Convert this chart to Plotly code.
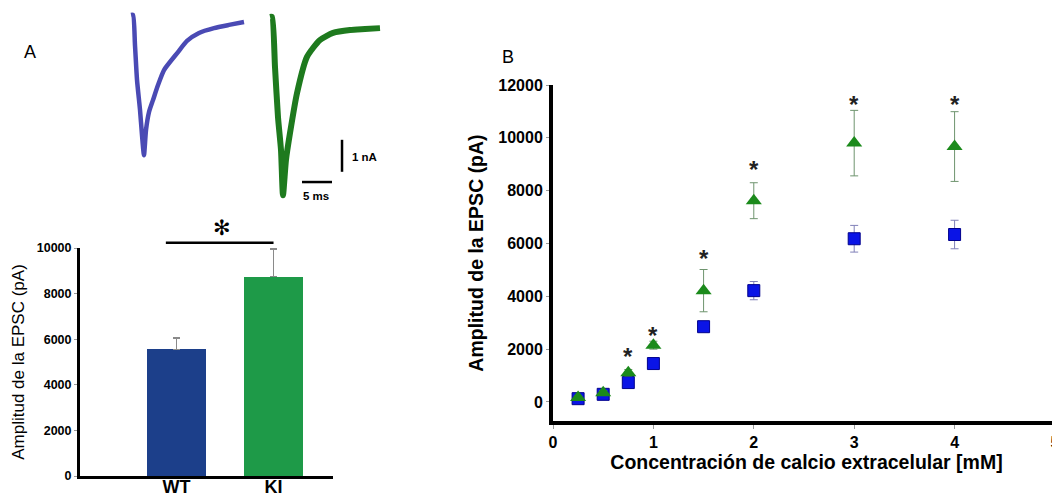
import plotly.graph_objects as go

# target picture size; the page body adds an 8 px margin, so the figure is
# drawn 8 px smaller and all pixel geometry is shifted by that margin
W, H = 1060, 498
OFF = 8
FW, FH = W - OFF, H - OFF

# ---------------- data ----------------
# Panel A: mean EPSC amplitude (pA)
genotypes = ["WT", "KI"]
amp_mean = [5550, 8750]
amp_sem = [500, 1200]

# Panel B: EPSC amplitude vs extracellular calcium
calcium_mM = [0.25, 0.5, 0.75, 1, 1.5, 2, 3, 4]
wt_amp = [125, 290, 735, 1455, 2850, 4215, 6180, 6340]
wt_sem = [60, 60, 80, 100, 120, 345, 505, 540]
ki_amp = [165, 350, 1110, 2150, 4215, 7620, 9800, 9670]
ki_sem = [60, 80, 120, 150, 800, 680, 1240, 1320]
sig_calcium = [0.75, 1, 1.5, 2, 3, 4]
sig_star_level = [1940, 2760, 5650, 9040, 11500, 11500]

# Panel A: example EPSC traces (time ms, current nA)
wt_t_ms = [-0.33, 0, 0.33, 0.67, 1.17, 1.5, 1.83, 2.17, 2.67, 3.33, 4.17, 5.17,
           7.5, 9.0, 11.0, 13.5, 16.0, 18.5]
wt_i_nA = [0, 0, -0.94, -2.03, -2.97, -3.75, -4.38, -3.59, -3.03, -2.66, -2.19,
           -1.72, -1.16, -0.81, -0.56, -0.41, -0.31, -0.22]
ki_t_ms = [-0.33, 0, 0.5, 1.0, 1.5, 1.83, 2.33, 3.0, 4.17, 5.83, 8.0, 10.17,
           13.0, 15.5, 18.0]
ki_i_nA = [-0.06, -0.06, -1.63, -3.19, -4.22, -5.63, -4.53, -3.69, -2.44, -1.31,
           -0.78, -0.56, -0.47, -0.44, -0.41]
scale_current_nA = 1
scale_time_ms = 5

# ---------------- style ----------------
FONT = "Liberation Sans, Arial, sans-serif"
WT_BAR = "#1c3f8a"
KI_BAR = "#1e9a48"
WT_MARK = "#0a14e6"
KI_MARK = "#1b8a1b"
WT_TRACE = "#4a4ab4"
KI_TRACE = "#1e7a1e"

# geometry (pixels in the target picture)
A_x = (80, 333)
A_y = (248, 476)
A_xrange = [-0.995, 1.613]
A_yrange = [0, 10000]
B_x = (553, 1060)
B_y = (85, 421)
B_xrange = [0, 5.05]
B_yrange = [-720, 12000]
T_y = (8, 205)
T_yrange = [-5.9375, 0.21875]


def fx(p):
    return (p - OFF) / FW


def fy(p):
    return 1 - (p - OFF) / FH


def px_dom(p):
    return [fx(p[0]), min(1.0, fx(p[1]))]


def py_dom(p):
    return [fy(p[1]), min(1.0, fy(p[0]))]


def a_paper(xv, yv):
    xd, yd = px_dom(A_x), py_dom(A_y)
    px = xd[0] + (xv - A_xrange[0]) / (A_xrange[1] - A_xrange[0]) * (xd[1] - xd[0])
    py = yd[0] + (yv - A_yrange[0]) / (A_yrange[1] - A_yrange[0]) * (yd[1] - yd[0])
    return px, py


fig = go.Figure()

# Panel A bars
fig.add_trace(go.Bar(
    x=genotypes, y=amp_mean, width=0.608,
    marker=dict(color=[WT_BAR, KI_BAR], line=dict(width=0)),
    error_y=dict(type="data", array=amp_sem, arrayminus=[0, 0], symmetric=False,
                 color="#8a8a8a", thickness=1.5, width=3.5),
    xaxis="x", yaxis="y", showlegend=False,
))

# Panel B scatter
fig.add_trace(go.Scatter(
    x=calcium_mM, y=wt_amp, mode="markers",
    marker=dict(symbol="square", size=12, color=WT_MARK,
                line=dict(color="#00008c", width=1)),
    error_y=dict(type="data", array=wt_sem, color="#8080b8", thickness=1, width=4),
    xaxis="x2", yaxis="y2", showlegend=False,
))
fig.add_trace(go.Scatter(
    x=calcium_mM, y=ki_amp, mode="markers",
    marker=dict(symbol="triangle-up", size=14, color=KI_MARK,
                line=dict(width=0)),
    error_y=dict(type="data", array=ki_sem, color="#6e946e", thickness=1, width=4),
    xaxis="x2", yaxis="y2", showlegend=False,
))

# EPSC traces
fig.add_trace(go.Scatter(
    x=wt_t_ms, y=wt_i_nA, mode="lines",
    line=dict(color=WT_TRACE, width=4.5, shape="spline", smoothing=0.6),
    xaxis="x3", yaxis="y3", showlegend=False,
))
fig.add_trace(go.Scatter(
    x=ki_t_ms, y=ki_i_nA, mode="lines",
    line=dict(color=KI_TRACE, width=6, shape="spline", smoothing=0.6),
    xaxis="x4", yaxis="y4", showlegend=False,
))

title_font_b = dict(family=FONT, size=19.5, color="black", weight="bold")
tick_font_b = dict(family=FONT, size=16, color="black", weight="bold")

fig.update_layout(
    width=FW, height=FH,
    margin=dict(l=0, r=0, t=0, b=0, pad=0, autoexpand=False),
    paper_bgcolor="white", plot_bgcolor="white",
    font=dict(family=FONT, color="black"),
    showlegend=False,
    bargap=0,
    xaxis=dict(
        domain=px_dom(A_x), type="category", range=A_xrange,
        showline=True, linecolor="black", linewidth=3,
        ticks="", ticklabelstandoff=-8,
        tickfont=dict(family=FONT, size=18, color="black", weight="bold"),
        showgrid=False, zeroline=False, anchor="y", automargin=False,
    ),
    yaxis=dict(
        domain=py_dom(A_y), range=A_yrange,
        tickvals=[0, 2000, 4000, 6000, 8000, 10000], tickformat="d",
        showline=True, linecolor="black", linewidth=3,
        ticks="outside", ticklen=3, tickcolor="#9a9a9a", tickwidth=1,
        tickfont=dict(family=FONT, size=12.5, color="black", weight="bold"),
        title=dict(text="Amplitud de la EPSC (pA)",
                   font=dict(family=FONT, size=17, color="black"), standoff=8),
        showgrid=False, zeroline=False, anchor="x", automargin=False,
    ),
    xaxis2=dict(
        domain=px_dom(B_x), range=B_xrange,
        tickvals=[0, 1, 2, 3, 4, 5], ticklabeloverflow="allow",
        showline=True, linecolor="black", linewidth=4,
        ticks="outside", ticklen=4, tickcolor="#9a9a9a", tickwidth=1,
        tickfont=tick_font_b,
        title=dict(text="Concentración de calcio extracelular [mM]",
                   font=title_font_b, standoff=4),
        showgrid=False, zeroline=False, anchor="y2", automargin=False,
    ),
    yaxis2=dict(
        domain=py_dom(B_y), range=B_yrange,
        tickvals=[0, 2000, 4000, 6000, 8000, 10000, 12000], tickformat="d",
        showline=True, linecolor="black", linewidth=4,
        ticks="outside", ticklen=3, tickcolor="#9a9a9a", tickwidth=1,
        tickfont=tick_font_b,
        title=dict(text="Amplitud de la EPSC (pA)", font=title_font_b, standoff=10),
        showgrid=False, zeroline=False, anchor="x2", automargin=False,
    ),
    xaxis3=dict(domain=[fx(120), fx(260)], range=[-2.167, 21.167], visible=False,
                anchor="y3", automargin=False),
    yaxis3=dict(domain=py_dom(T_y), range=T_yrange, visible=False, anchor="x3",
                automargin=False),
    xaxis4=dict(domain=[fx(260), fx(400)], range=[-2.0, 21.333], visible=False,
                anchor="y4", automargin=False),
    yaxis4=dict(domain=py_dom(T_y), range=T_yrange, visible=False, anchor="x4",
                automargin=False),
)

# significance stars in panel B
for xv, yv in zip(sig_calcium, sig_star_level):
    fig.add_annotation(x=xv, y=yv, xref="x2", yref="y2", text="*", showarrow=False,
                       font=dict(family=FONT, size=24, color="#222222", weight="bold"),
                       xanchor="center", yanchor="middle", yshift=-6)

# significance bracket in panel A
lx0, ly = a_paper(-0.11, 10230)
lx1, _ = a_paper(1.0, 10230)
fig.add_shape(type="line", xref="paper", yref="paper", x0=lx0, x1=lx1, y0=ly, y1=ly,
              line=dict(color="black", width=2.5))
sx, sy = a_paper(0.47, 10880)
fig.add_annotation(x=sx, y=sy, xref="paper", yref="paper", text="✻", showarrow=False,
                   font=dict(family="DejaVu Sans", size=21, color="black"),
                   xanchor="center", yanchor="middle")

# scale bars on the KI trace axes
bar_x = 11.67
bar_y0 = -3.9
fig.add_shape(type="line", xref="x4", yref="y4", x0=bar_x, x1=bar_x,
              y0=bar_y0, y1=bar_y0 - scale_current_nA,
              line=dict(color="black", width=2.5))
fig.add_shape(type="line", xref="x4", yref="y4", x0=5, x1=5 + scale_time_ms,
              y0=-5.22, y1=-5.22, line=dict(color="black", width=2.5))
fig.add_annotation(x=13.0, y=-4.45, xref="x4", yref="y4", text=f"{scale_current_nA} nA",
                   showarrow=False, xanchor="left", yanchor="middle",
                   font=dict(family=FONT, size=11.5, color="black", weight="bold"))
fig.add_annotation(x=7.3, y=-5.66, xref="x4", yref="y4", text=f"{scale_time_ms} ms",
                   showarrow=False, xanchor="center", yanchor="middle",
                   font=dict(family=FONT, size=11.5, color="black", weight="bold"))

# panel letters
fig.add_annotation(x=fx(30), y=fy(52), xref="paper", yref="paper", text="A",
                   showarrow=False, xanchor="center", yanchor="middle",
                   font=dict(family=FONT, size=18, color="black"))
fig.add_annotation(x=fx(508), y=fy(57), xref="paper", yref="paper", text="B",
                   showarrow=False, xanchor="center", yanchor="middle",
                   font=dict(family=FONT, size=18, color="black"))

fig.write_html("out.html")
